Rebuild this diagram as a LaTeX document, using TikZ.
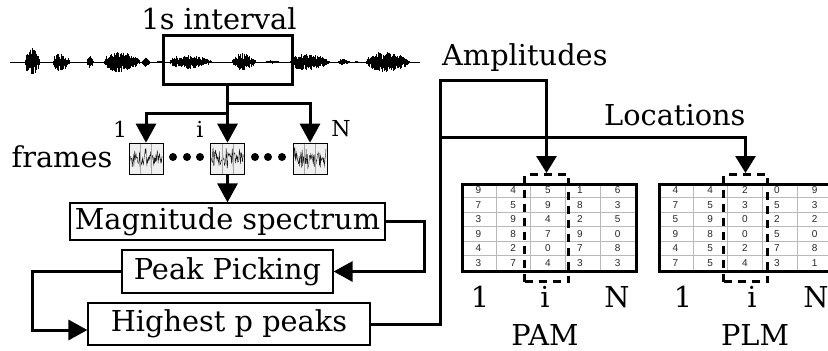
\documentclass[tikz,border=0pt]{standalone}
\usepackage{fontspec}
\setmainfont{DejaVu Serif}
\newfontfamily\tabfont{Liberation Sans}
\usetikzlibrary{arrows.meta}
\newcommand\fwave[1]{%
  \pgfmathsetmacro\ua{#1-16}\pgfmathsetmacro\ub{#1+16}%
  \draw[gray!20!black, line width=0.4pt] plot[domain=\ua:\ub, samples=75] (\x,{158.5+11*rand*(0.35+0.65*abs(sin(\x*29)))});
  \draw[gray!70, line width=0.5pt] (#1-5.7,143.5) -- (#1-5.7,173.5) (#1+5.7,143.5) -- (#1+5.7,173.5);
}
\newcommand\mktable[5]{% #1 x0, #2 name, #3 dashed left, #4 values, #5 label
  \foreach \k in {1,...,5} \draw[gray!55, line width=0.6pt] (#1,183+\k*14.5) -- (#1+174,183+\k*14.5);
  \foreach \k in {1,...,4} \draw[gray!55, line width=0.6pt] (#1+\k*34.8,183) -- (#1+\k*34.8,270);
  \foreach \row [count=\r] in {#4} {
    \foreach \v [count=\c] in \row {
      \node[num] at ({#1+(\c-0.5)*34.8+(\c==4?-3:0)},{183+(\r-0.5)*14.5}) {\v};
    }
  }
  \node[draw, line width=3pt, minimum width=174pt, minimum height=87pt, inner sep=0pt, anchor=north west] (#2) at (#1,183) {};
  \node[dashbox, anchor=north west] (#2I) at (#3,173) {};
}
\begin{document}
\begin{tikzpicture}[x=1pt,y=-1pt,
  big/.style={font=\fontsize{28.8}{32}\selectfont},
  med/.style={font=\fontsize{22}{26}\selectfont},
  flowbox/.style={draw, line width=1.2pt, inner sep=0pt, big},
  conn/.style={line width=3pt},
  arr/.style={conn, -{Triangle[width=20pt,length=19pt]}},
  tarr/.style={conn, -{Triangle[width=20pt,length=17pt]}},
  framebox/.style={draw, line width=0.6pt, fill=gray!12, minimum width=34pt, minimum height=31pt, inner sep=0pt},
  num/.style={font=\tabfont\fontsize{10}{11}\selectfont, text=black!85, inner sep=0pt},
  dashbox/.style={draw, line width=3pt, dash pattern=on 8pt off 6pt, minimum width=44pt, minimum height=107pt, inner sep=0pt},
  dotn/.style={circle, fill=black, inner sep=0pt, minimum size=8pt},
  lab/.style={big, inner sep=0pt}
]
\useasboundingbox (0,0) rectangle (828,351);
\pgfmathsetseed{7}
% waveform
\draw[line width=0.8pt] (10,62) -- (420,62);
\foreach \s/\e/\a in {25/40/18, 53/70/12, 87/94/8, 104/140/13, 142/150/6, 157/162/2, 169/212/9, 232/256/11, 265/280/2, 290/330/11, 338/350/4, 355/358/2, 366/410/13} {
  \pgfmathtruncatemacro\nn{(\e-\s)*2}
  \foreach \k in {0,...,\nn} {
    \pgfmathsetmacro\xx{\s+\k*0.5}
    \pgfmathsetmacro\tt{min(1,max(0,(\xx-\s)/(\e-\s)))}
    \pgfmathsetmacro\env{\a*sqrt(sin(180*\tt))*(1-0.45*\tt)}
    \pgfmathsetmacro\ya{62-\env*(0.25+0.75*rnd)}
    \pgfmathsetmacro\yb{62+\env*(0.25+0.75*rnd)}
    \draw[line width=0.6pt] (\xx,\ya) -- (\xx,\yb);
  }
}
\node[draw, line width=3pt, minimum width=129pt, minimum height=49pt, inner sep=0pt] (int) at (227.5,59.5) {};
\node[lab] (intlab) at (219,19) {1s interval};
% frames
\node[framebox] (f1) at (146,158.5) {};
\node[framebox] (fi) at (227.5,158.5) {};
\node[framebox] (fN) at (310,158.5) {};
\fwave{146}\fwave{227.5}\fwave{310}
\node[framebox, fill=none] at (f1) {};
\node[framebox, fill=none] at (fi) {};
\node[framebox, fill=none] at (fN) {};
\foreach \p [count=\k] in {173,187,200,255,268,282} \node[dotn] (d\k) at (\p,157) {};
\node[lab] (frl) at (62,157) {frames};
\node[med, inner sep=0pt] (l1) at (120,129) {1};
\node[med, inner sep=0pt] (li) at (200,129) {i};
\node[med, inner sep=0pt] (lN) at (341,129) {N};
\coordinate (bl) at (227.5,113);
\coordinate (br) at (227.5,103);
\draw[arr] (int.south) -- (fi.north);
\draw[arr] (bl) -| (f1.north);
\draw[arr] (br) -| (fN.north);
% flow boxes
\node[flowbox, minimum width=315pt, minimum height=37pt] (mag) at (227.5,221.5) {Magnitude spectrum};
\node[flowbox, minimum width=211pt, minimum height=43pt] (peak) at (227.5,271.5) {Peak Picking};
\node[flowbox, minimum width=282pt, minimum height=42pt] (high) at (229,324) {Highest p peaks};
\draw[arr] (fi.south) -- (mag.north);
\draw[arr] (mag.east) -- ++(39,0) |- (peak.east);
\draw[arr] (peak.west) -- ++(-89,0) |- ([yshift=-6pt]high.west);
% tables
\mktable{461}{pam}{523}{{9,4,5,1,6},{7,5,9,8,3},{3,9,4,2,5},{9,8,7,9,0},{4,2,0,7,8},{3,7,4,3,3}}{PAM}
\mktable{658}{plm}{722}{{4,4,2,0,9},{7,5,3,5,3},{5,9,0,2,2},{9,8,0,5,0},{4,5,2,7,8},{7,5,4,3,1}}{PLM}
\coordinate (jA) at (440,80);
\coordinate (jL) at (440,137);
\draw[tarr] (high.east) -| (jA) -| (pamI.north);
\draw[tarr] (jL) -| (plmI.north);
\node[lab, anchor=west] (amp) at (442,58) {Amplitudes};
\node[lab, anchor=west] (loc) at (604,115) {Locations};
% labels
\node[lab] (a1) at (480,297) {1};
\node[lab] (ai) at (545,297) {i};
\node[lab] (aN) at (617,297) {N};
\node[lab] (pamlab) at (545,335) {PAM};
\node[lab] (b1) at (683,297) {1};
\node[lab] (bi) at (752,297) {i};
\node[lab] (bN) at (816,297) {N};
\node[lab] (plmlab) at (755,335) {PLM};
\end{tikzpicture}
\end{document}
